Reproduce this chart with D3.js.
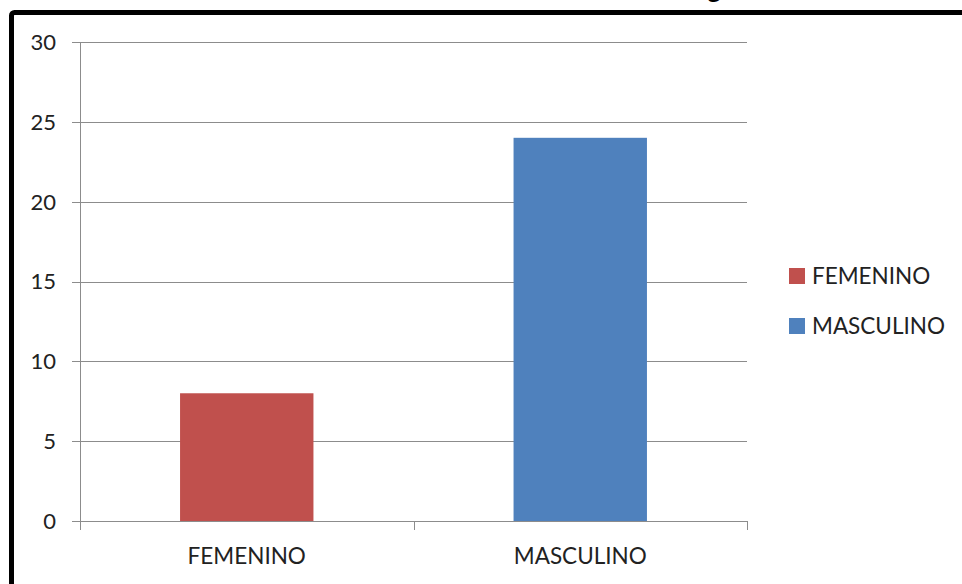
<!DOCTYPE html>
<html><head><meta charset="utf-8">
<script src="https://cdn.jsdelivr.net/npm/d3@7"></script>
<style>body{margin:0;background:#fff}svg{display:block}</style>
</head><body>
<svg id="c" width="962" height="584"></svg>
<script>
const categories = ["FEMENINO", "MASCULINO"];
const values = [8, 24];
const colors = ["#C0504D", "#4F81BD"];
const yTicks = [0, 5, 10, 15, 20, 25, 30];
const titleText = "Distribución de la muestra según sexo";

(function () {
const svg = d3.select("#c");
const font = "Lato, 'Open Sans', sans-serif";
const pLeft = 80, pRight = 747, pTop = 42, pBottom = 521;

svg.append("rect").attr("x", 11.5).attr("y", 12.5).attr("width", 1000).attr("height", 700)
  .attr("rx", 3).attr("fill", "#fff").attr("stroke", "#000").attr("stroke-width", 5);

const title = svg.append("text").attr("x", 500).attr("y", -2)
  .attr("font-family", font).attr("font-size", 26).attr("font-weight", "bold")
  .attr("text-anchor", "middle").attr("fill", "#000").text(titleText);
try {
  const idx = titleText.indexOf("g");
  const ext = title.node().getExtentOfChar(idx);
  const cx = ext.x + ext.width / 2;
  title.attr("x", 500 + (714 - cx));
} catch (e) {}

const y = d3.scaleLinear().domain([0, 30]).range([pBottom, pTop]);
const x = d3.scaleBand().domain(categories).range([pLeft, pRight]).paddingInner(0.6).paddingOuter(0.3);

const grid = "#8c8c8c";
svg.append("g").selectAll("line").data(yTicks).join("line")
  .attr("x1", pLeft - 8).attr("x2", pRight).attr("y1", d => Math.round(y(d)) + 0.5).attr("y2", d => Math.round(y(d)) + 0.5)
  .attr("stroke", grid).attr("stroke-width", 1);

svg.append("g").selectAll("rect").data(values).join("rect")
  .attr("x", (d, i) => x(categories[i])).attr("width", x.bandwidth())
  .attr("y", d => y(d)).attr("height", d => y(0) - y(d) + 1)
  .attr("fill", (d, i) => colors[i]);

svg.append("line").attr("x1", pLeft + 0.5).attr("x2", pLeft + 0.5).attr("y1", pTop).attr("y2", pBottom + 9)
  .attr("stroke", grid);
svg.append("line").attr("x1", pLeft).attr("x2", pRight).attr("y1", Math.round(y(0)) + 0.5).attr("y2", Math.round(y(0)) + 0.5).attr("stroke", grid);
const tickXs = [pLeft, pLeft + (pRight - pLeft) / 2, pRight];
svg.append("g").selectAll("line").data(tickXs).join("line")
  .attr("x1", d => Math.round(d) + 0.5).attr("x2", d => Math.round(d) + 0.5)
  .attr("y1", pBottom).attr("y2", pBottom + 9).attr("stroke", grid);

svg.append("g").selectAll("text").data(yTicks).join("text")
  .attr("x", 56).attr("y", d => y(d)).attr("dy", "0.36em")
  .attr("text-anchor", "end").attr("font-family", font).attr("font-size", 22).attr("fill", "#222")
  .text(d => d);

svg.append("g").selectAll("text").data(categories).join("text")
  .attr("x", d => x(d) + x.bandwidth() / 2).attr("y", 556).attr("dy", "0.36em")
  .attr("text-anchor", "middle").attr("font-family", font).attr("font-size", 22.5).attr("fill", "#222")
  .text(d => d);

const lg = svg.append("g");
categories.forEach((c, i) => {
  const ly = 276 + i * 50;
  lg.append("rect").attr("x", 789).attr("y", ly - 8).attr("width", 16).attr("height", 16).attr("fill", colors[i]);
  lg.append("text").attr("x", 812).attr("y", ly).attr("dy", "0.36em")
    .attr("font-family", font).attr("font-size", 22.5).attr("fill", "#222").text(c);
});
})();
</script>
</body></html>
